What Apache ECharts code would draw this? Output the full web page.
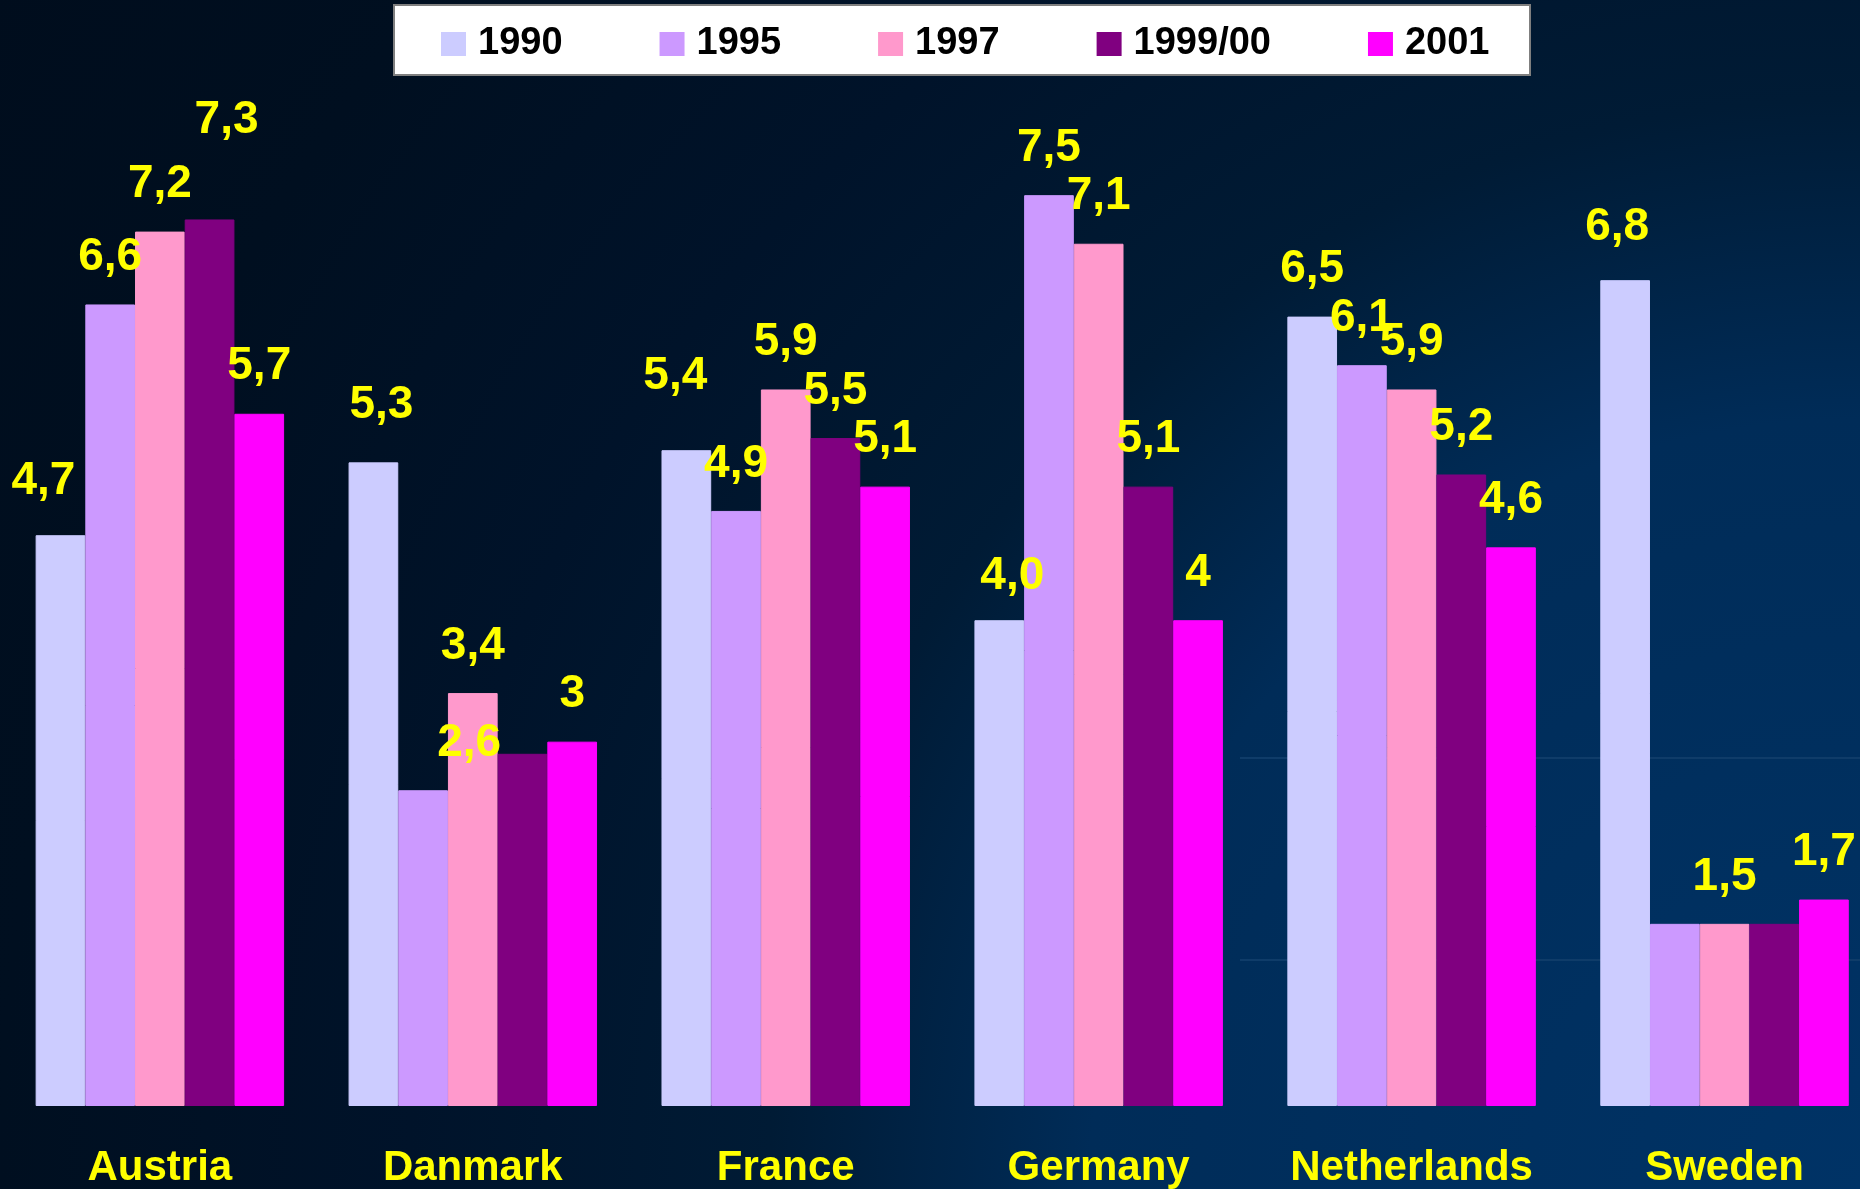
<!DOCTYPE html>
<html>
<head>
<meta charset="utf-8">
<script src="https://cdn.jsdelivr.net/npm/echarts@6/dist/echarts.min.js"></script>
<style>
html,body{margin:0;padding:0;overflow:hidden;width:1860px;height:1189px;}
#chart{width:1881px;height:1189px;
background: radial-gradient(circle at 1860px 1189px, #003366 0px, #002c58 770px, #001b35 1090px, #00132a 1450px, #000f20 1860px, #000d1d 2220px);}
</style>
</head>
<body>
<div id="chart"></div>
<script>
// ---- data ----
const categories = ['Austria', 'Danmark', 'France', 'Germany', 'Netherlands', 'Sweden'];
const seriesNames = ['1990', '1995', '1997', '1999/00', '2001'];
const values1990 = [4.7, 5.3, 5.4, 4.0, 6.5, 6.8];
const values1995 = [6.6, 2.6, 4.9, 7.5, 6.1, 1.5];
const values1997 = [7.2, 3.4, 5.9, 7.1, 5.9, 1.5];
const values1999 = [7.3, 2.9, 5.5, 5.1, 5.2, 1.5];
const values2001 = [5.7, 3.0, 5.1, 4.0, 4.6, 1.7];
// value label texts as printed on the original ('' = no label)
const labels1990 = ['4,7', '5,3', '5,4', '4,0', '6,5', '6,8'];
const labels1995 = ['6,6', '2,6', '4,9', '7,5', '6,1', ''];
const labels1997 = ['7,2', '3,4', '5,9', '7,1', '5,9', '1,5'];
const labels1999 = ['7,3', '', '5,5', '5,1', '5,2', ''];
const labels2001 = ['5,7', '3', '5,1', '4', '4,6', '1,7'];

// ---- styling ----
const colors = ['#CCCCFF', '#CC99FF', '#FF99CC', '#800080', '#FF00FF'];
// label nudges [series]-[category] -> [dx, dy] in px (as placed on the original slide)
const labelNudge = {
  '0-0': [-17, -7], '3-0': [17, -52], '0-1': [8, -10], '1-1': [46, 0],
  '0-2': [-11, -27], '0-3': [13, 3], '0-5': [-8, -6]
};
const FONT = '"Liberation Sans", Arial, Helvetica, sans-serif';

const allValues = [values1990, values1995, values1997, values1999, values2001];
const allLabels = [labels1990, labels1995, labels1997, labels1999, labels2001];

const series = seriesNames.map((name, s) => ({
  name: name,
  type: 'bar',
  barGap: '0%',
  barCategoryGap: '20.6%',
  itemStyle: { color: colors[s], borderColor: colors[s], borderWidth: 1 },
  label: {
    show: true,
    position: 'top',
    distance: 24,
    color: '#FFFF00',
    fontFamily: FONT,
    fontWeight: 'bold',
    fontSize: 46,
    formatter: (p) => allLabels[s][p.dataIndex]
  },
  data: allValues[s].map((v, i) => {
    const n = labelNudge[s + '-' + i];
    return n ? { value: v, label: { offset: n } } : { value: v };
  })
}));

const chart = echarts.init(document.getElementById('chart'), null, { renderer: 'canvas' });
chart.setOption({
  backgroundColor: 'transparent',
  animation: false,
  color: colors,
  graphic: [
    { type: 'line', z: 0, shape: { x1: 1240, y1: 758, x2: 1881, y2: 758 }, style: { stroke: '#0f3c69', lineWidth: 2 } },
    { type: 'line', z: 0, shape: { x1: 1240, y1: 960, x2: 1881, y2: 960 }, style: { stroke: '#0f3c69', lineWidth: 2 } },
    { type: 'rect', z: 3, shape: { x: 394, y: 5, width: 1136, height: 70 }, style: { fill: '#FFFFFF', stroke: '#7f7f7f', lineWidth: 2 } }
  ],
  legend: {
    z: 5,
    left: 441,
    top: 25,
    padding: 0,
    itemGap: 97,
    itemWidth: 25,
    itemHeight: 24,
    icon: 'rect',
    itemStyle: { borderWidth: 0 },
    data: seriesNames,
    textStyle: { color: '#000000', fontFamily: FONT, fontWeight: 'bold', fontSize: 38, padding: [0, 0, 0, 7] }
  },
  grid: { left: 3.4, top: 13, right: 0, bottom: 82, containLabel: false },
  xAxis: {
    type: 'category',
    data: categories,
    axisLine: { show: false },
    axisTick: { show: false },
    axisLabel: { interval: 0, color: '#FFFF00', fontFamily: FONT, fontWeight: 'bold', fontSize: 42, margin: 41 }
  },
  yAxis: {
    type: 'value',
    min: 0,
    max: 9,
    interval: 1,
    show: false,
    splitLine: { show: false }
  },
  series: series
});
</script>
</body>
</html>
